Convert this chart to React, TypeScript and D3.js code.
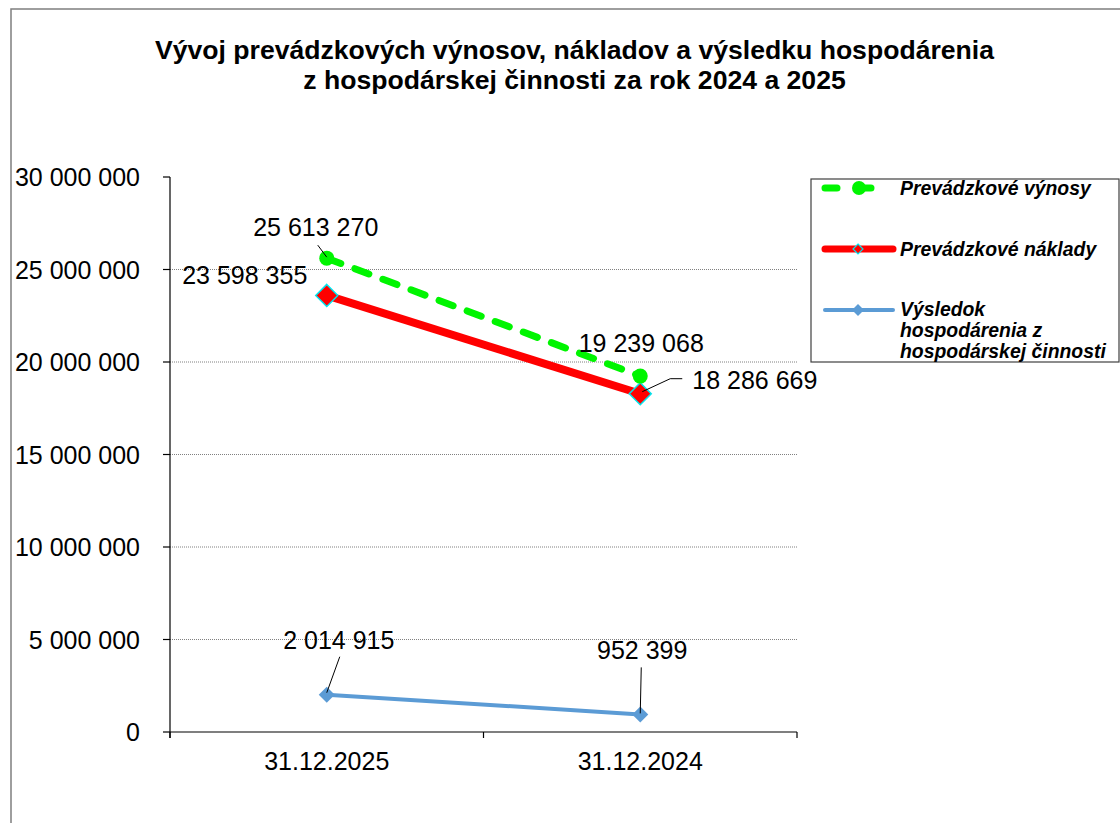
import React from "react";
import * as d3 from "d3";

const categories = ["31.12.2025", "31.12.2024"];
const vynosy = [25613270, 19239068];
const naklady = [23598355, 18286669];
const vysledok = [2014915, 952399];
const yTicks = [0, 5000000, 10000000, 15000000, 20000000, 25000000, 30000000];
const titleLines = [
  "Vývoj prevádzkových výnosov, nákladov a výsledku hospodárenia",
  "z hospodárskej činnosti za rok 2024 a 2025",
];
const seriesNames = ["Prevádzkové výnosy", "Prevádzkové náklady", "Výsledok hospodárenia z hospodárskej činnosti"];

const fmt = (v: number) => d3.format(",")(v).replace(/,/g, " ");
const FONT = "'Liberation Sans', Arial, sans-serif";
const GREEN = "#00f500";

export default function App() {
  const left = 170, right = 797, top = 177, bottom = 732;
  const x = d3.scaleBand<string>().domain(categories).range([left, right]);
  const cx = (c: string) => (x(c) as number) + x.bandwidth() / 2;
  const y = d3.scaleLinear().domain([0, 30000000]).range([bottom, top]);
  const line = d3.line<number>().x((_, i) => cx(categories[i])).y((d) => y(d));

  const diamond = (px: number, py: number, r: number) =>
    `M${px},${py - r}L${px + r},${py}L${px},${py + r}L${px - r},${py}Z`;

  const labels = [
    { v: vynosy[0], i: 0, dx: -11, dy: -22, anchor: "middle", leader: [[-9, -13], [0, -1]] },
    { v: naklady[0], i: 0, dx: -82, dy: -11, anchor: "middle", leader: null },
    { v: vynosy[1], i: 1, dx: 1, dy: -24, anchor: "middle", leader: null },
    { v: naklady[1], i: 1, dx: 52, dy: -5, anchor: "start", leader: [[42, -15], [30, -15], [2, -2]] },
    { v: vysledok[0], i: 0, dx: 12, dy: -46, anchor: "middle", leader: [[13, -38], [0, -2]] },
    { v: vysledok[1], i: 1, dx: 2, dy: -55, anchor: "middle", leader: [[1, -47], [0, -1]] },
  ];

  const fs = 25;

  return (
    <svg width={1120} height={823} style={{ position: "absolute", left: 0, top: 0, background: "#fff" }} fontFamily={FONT}>
      <rect x={11} y={9} width={1130} height={840} fill="#fff" stroke="#7f7f7f" strokeWidth={1.5} />
      {titleLines.map((t, i) => (
        <text key={i} x={574.5} y={59 + i * 30} textAnchor="middle" fontWeight="bold" fontSize={26.6}>
          {t}
        </text>
      ))}
      {yTicks.filter((t) => t > 0 && t < 30000000).map((t) => (
        <line key={t} x1={left} x2={right} y1={y(t)} y2={y(t)} stroke="#808080" strokeWidth={1} strokeDasharray="1 1" />
      ))}
      <line x1={left} x2={left} y1={top} y2={bottom + 6} stroke="#000" strokeWidth={1.2} />
      {yTicks.map((t) => (
        <g key={t}>
          <line x1={left - 7} x2={left} y1={y(t)} y2={y(t)} stroke="#000" strokeWidth={1.2} />
          <text x={140} y={y(t) + 9} textAnchor="end" fontSize={fs}>
            {fmt(t)}
          </text>
        </g>
      ))}
      <line x1={left} x2={right} y1={bottom} y2={bottom} stroke="#000" strokeWidth={1.2} />
      {[left, ...categories.map((c) => (x(c) as number) + x.bandwidth())].map((px, i) => (
        <line key={i} x1={px} x2={px} y1={bottom} y2={bottom + 6} stroke="#000" strokeWidth={1.2} />
      ))}
      {categories.map((c) => (
        <text key={c} x={cx(c)} y={770} textAnchor="middle" fontSize={fs}>
          {c}
        </text>
      ))}
      <path d={line(vysledok) || ""} fill="none" stroke="#5b9bd5" strokeWidth={4} />
      {vysledok.map((v, i) => (
        <path key={i} d={diamond(cx(categories[i]), y(v), 8)} fill="#5b9bd5" />
      ))}
      <path d={line(naklady) || ""} fill="none" stroke="#ff0000" strokeWidth={8} />
      {naklady.map((v, i) => (
        <path key={i} d={diamond(cx(categories[i]), y(v), 11)} fill="#ff0000" stroke="#00e5ee" strokeWidth={1.5} />
      ))}
      <path d={line(vynosy) || ""} fill="none" stroke={GREEN} strokeWidth={7} strokeDasharray="15 15" strokeLinecap="round" />
      {vynosy.map((v, i) => (
        <circle key={i} cx={cx(categories[i])} cy={y(v)} r={7.5} fill={GREEN} />
      ))}
      {labels.map((l, k) => {
        const px = cx(categories[l.i]);
        const py = y(l.v);
        return (
          <g key={k}>
            {l.leader && (
              <polyline
                points={l.leader.map(([a, b]) => `${px + a},${py + b}`).join(" ")}
                fill="none"
                stroke="#000"
                strokeWidth={1}
              />
            )}
            <text x={px + l.dx} y={py + l.dy} textAnchor={l.anchor as any} fontSize={fs}>
              {fmt(l.v)}
            </text>
          </g>
        );
      })}
      <rect x={811} y={179} width={308} height={183} fill="#fff" stroke="#404040" strokeWidth={1.2} />
      <g>
        <line x1={825} x2={893} y1={188} y2={188} stroke={GREEN} strokeWidth={7} strokeDasharray="12 22" strokeLinecap="round" />
        <circle cx={859} cy={188} r={7} fill={GREEN} />
        <text x={900} y={195} fontSize={19.4} fontWeight="bold" fontStyle="italic">{seriesNames[0]}</text>
      </g>
      <g>
        <line x1={825} x2={893} y1={249} y2={249} stroke="#ff0000" strokeWidth={7} strokeLinecap="round" />
        <path d={diamond(858, 249, 5)} fill="#ff0000" stroke="#00e5ee" strokeWidth={1.2} />
        <text x={900} y={256} fontSize={19.4} fontWeight="bold" fontStyle="italic">{seriesNames[1]}</text>
      </g>
      <g>
        <line x1={825} x2={893} y1={310} y2={310} stroke="#5b9bd5" strokeWidth={4} strokeLinecap="round" />
        <path d={diamond(858, 310, 6)} fill="#5b9bd5" />
        <text x={900} fontSize={19.4} fontWeight="bold" fontStyle="italic">
          <tspan x={900} y={316}>Výsledok</tspan>
          <tspan x={900} y={337}>hospodárenia z</tspan>
          <tspan x={900} y={358}>hospodárskej činnosti</tspan>
        </text>
      </g>
    </svg>
  );
}
